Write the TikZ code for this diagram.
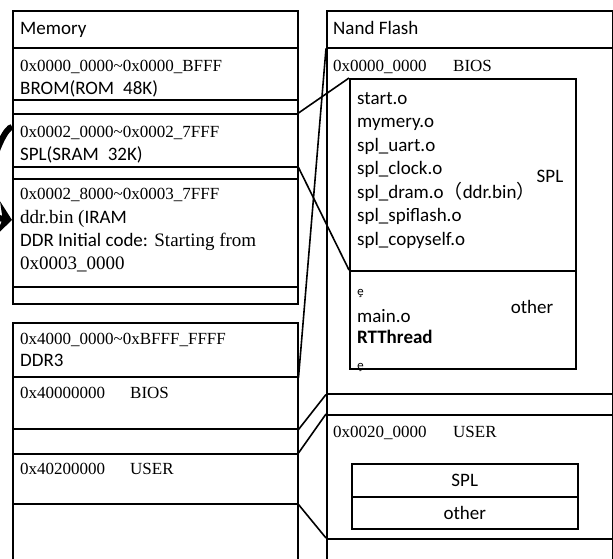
\documentclass[tikz,border=0pt]{standalone}
\usepackage{fontspec}
\setmainfont{Liberation Serif}
\newfontfamily\calfont{Carlito}
\newfontfamily\cjkfont{Noto Sans CJK SC}
\newfontfamily\markfont{DejaVu Sans}
\usetikzlibrary{arrows.meta}

\begin{document}
\begin{tikzpicture}[x=1pt,y=-1pt,
  box/.style={draw,line width=1.5pt,rectangle,inner sep=0pt,anchor=north west},
  hexlab/.style={anchor=base west,inner sep=0pt,font=\fontsize{17}{20}\selectfont},
  biglab/.style={anchor=base west,inner sep=0pt,font=\fontsize{19}{23}\selectfont},
  sanslab/.style={anchor=base west,inner sep=0pt,font=\fontsize{19}{23}\selectfont\calfont},
  marklab/.style={anchor=west,inner sep=0pt,font=\fontsize{11}{13}\selectfont\markfont},
  link/.style={line width=1.6pt}]
\useasboundingbox (0,0) rectangle (613,558);

% Memory
\node[box,minimum width=285pt,minimum height=37pt] (memhead) at (12,10) {};
\node[box,minimum width=285pt,minimum height=52pt] (brom) at (12,47) {};
\node[box,minimum width=285pt,minimum height=14pt] (gapa) at (12,99) {};
\node[box,minimum width=285pt,minimum height=53pt] (sram) at (12,113) {};
\node[box,minimum width=285pt,minimum height=12pt] (gapb) at (12,166) {};
\node[box,minimum width=285pt,minimum height=108pt] (iram) at (12,178) {};
\node[box,minimum width=285pt,minimum height=17pt] (gapc) at (12,286) {};

\node[sanslab] (memtitle) at (20,34) {Memory};
\node[hexlab] (bromaddr) at (20,71) {0x0000\_0000\textasciitilde0x0000\_BFFF};
\node[sanslab] (bromname) at (20,94) {BROM(ROM\hspace{9pt}48K)};
\node[hexlab] (sramaddr) at (20,137) {0x0002\_0000\textasciitilde0x0002\_7FFF};
\node[sanslab] (sramname) at (20,160) {SPL(SRAM\hspace{9pt}32K)};
\node[hexlab] (iramaddr) at (20,199) {0x0002\_8000\textasciitilde0x0003\_7FFF};
\node[biglab] (iramname) at (20,223) {ddr.bin ({\calfont IRAM}};
\node[biglab] (iramnote) at (20,246) {{\calfont DDR Initial code:} Starting from};
\node[biglab] (iramstart) at (20,269) {0x0003\_0000};

% DDR3
\node[box,minimum width=285pt,minimum height=54pt] (ddr) at (12,322) {};
\node[box,minimum width=285pt,minimum height=52pt] (ddrbios) at (12,376) {};
\node[box,minimum width=285pt,minimum height=25pt] (gapd) at (12,428) {};
\node[box,minimum width=285pt,minimum height=50pt] (ddruser) at (12,453) {};
\node[box,minimum width=285pt,minimum height=70pt] (ddrrest) at (12,503) {};

\node[hexlab] (ddraddr) at (20,344) {0x4000\_0000\textasciitilde0xBFFF\_FFFF};
\node[sanslab] (ddrname) at (20,366) {DDR3};
\node[hexlab] (biosaddr) at (20,398) {0x40000000};
\node[hexlab] (biosname) at (130,398) {BIOS};
\node[hexlab] (useraddr) at (20,474) {0x40200000};
\node[hexlab] (username) at (130,474) {USER};

% Nand Flash
\node[box,minimum width=286pt,minimum height=37pt] (nandhead) at (326,10) {};
\node[box,minimum width=286pt,minimum height=346pt] (nandbios) at (326,47) {};
\node[box,minimum width=286pt,minimum height=21pt] (gape) at (326,393) {};
\node[box,minimum width=286pt,minimum height=124pt] (nanduser) at (326,414) {};
\node[box,minimum width=286pt,minimum height=40pt] (nandrest) at (326,538) {};

\node[box,minimum width=226pt,minimum height=192pt] (splobj) at (349,78) {};
\node[box,minimum width=226pt,minimum height=98pt] (otherobj) at (349,270) {};
\node[box,minimum width=226pt,minimum height=33pt] (userspl) at (351,463) {};
\node[box,minimum width=226pt,minimum height=32pt] (userother) at (351,496) {};

\node[sanslab] (nandtitle) at (333,34) {Nand Flash};
\node[hexlab] (nbiosaddr) at (333,71) {0x0000\_0000};
\node[hexlab] (nbiosname) at (453,71) {BIOS};
\foreach \obj [count=\i from 0] in {start.o,mymery.o,spl\_uart.o,spl\_clock.o,
    spl\_dram.o{\cjkfont （}ddr.bin{\cjkfont ）},spl\_spiflash.o,spl\_copyself.o}
  \node[sanslab] (obj\i) at (357,104+23.5*\i) {\obj};
\node[sanslab,anchor=center] (spllab) at (550,176) {SPL};
\node[marklab] (marka) at (357,293) {ȩ};
\node[sanslab] (mainobj) at (357,322) {main.o};
\node[sanslab,font=\fontsize{19}{23}\selectfont\calfont\bfseries] (rtobj) at (357,343) {RTThread};
\node[marklab] (markb) at (357,367) {ȩ};
\node[sanslab,anchor=center] (otherlab) at (532,307) {other};
\node[hexlab] (nuseraddr) at (333,437) {0x0020\_0000};
\node[hexlab] (nusername) at (453,437) {USER};
\node[sanslab,anchor=center] (usersplab) at (userspl) {SPL};
\node[sanslab,anchor=center] (userotherlab) at (userother) {other};

\draw[link] (sram.north east) -- (splobj.north west);
\draw[link] (sram.south east) -- (otherobj.north west);
\draw[link] (nandhead.south west) -- (ddr.south east);
\draw[link] (ddrbios.south east) -- (nandbios.south west);
\draw[link] (ddruser.north east) -- (nanduser.north west);
\draw[link] (ddruser.south east) -- (nandrest.north west);

\draw[line width=6pt,-{Stealth[length=14pt,width=34pt]}]
  ([yshift=-14pt]sram.north west) .. controls (0,128) and (-30,215) .. ([yshift=-42pt]iram.north west);
\end{tikzpicture}
\end{document}
